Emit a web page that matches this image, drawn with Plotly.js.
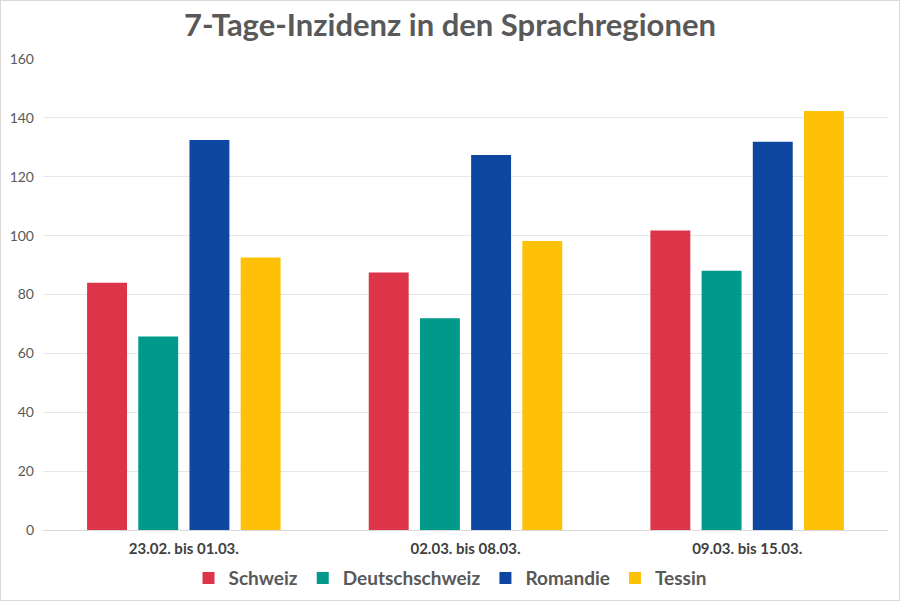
<!DOCTYPE html>
<html>
<head>
<meta charset="utf-8">
<script src="https://cdn.plot.ly/plotly-3.0.1.min.js"></script>
<style>
html,body{margin:0;padding:0;background:#fff;}
#wrap{position:relative;width:900px;height:601px;}
#chart{width:900px;height:601px;}
#frame{position:absolute;left:0;top:0;width:898px;height:599px;border:1px solid #d9d9d9;pointer-events:none;}
</style>
</head>
<body>
<div id="wrap"><div id="chart"></div><div id="frame"></div></div>
<script>
const categories = ["23.02. bis 01.03.", "02.03. bis 08.03.", "09.03. bis 15.03."];
const seriesNames = ["Schweiz", "Deutschschweiz", "Romandie", "Tessin"];
const schweiz = [84.0, 87.5, 101.7];
const deutschschweiz = [65.7, 71.9, 88.1];
const romandie = [132.5, 127.4, 131.9];
const tessin = [92.6, 98.2, 142.3];
const colors = ["#DC3549", "#00998A", "#0D47A1", "#FFC107"];
const yTicks = [0, 20, 40, 60, 80, 100, 120, 140, 160];

const values = [schweiz, deutschschweiz, romandie, tessin];
const traces = seriesNames.map((n, i) => ({
  type: "bar",
  name: n,
  x: categories,
  y: values[i],
  marker: {color: colors[i]},
  hoverinfo: "x+y+name"
}));

const layout = {
  width: 900,
  height: 601,
  margin: {l: 43, r: 12, t: 59, b: 71, autoexpand: false},
  paper_bgcolor: "#ffffff",
  plot_bgcolor: "#ffffff",
  font: {family: "Lato, 'Open Sans', sans-serif", color: "#595959"},
  title: {
    text: "<b>7-Tage-Inzidenz in den Sprachregionen</b>",
    x: 0.5, xanchor: "center",
    y: 0.958, yanchor: "middle",
    font: {family: "Lato, sans-serif", size: 31, color: "#595959"}
  },
  barmode: "group",
  bargap: 0.273,
  bargroupgap: 0.22,
  xaxis: {
    type: "category",
    showgrid: false,
    showline: false,
    zeroline: false,
    ticks: "",
    tickfont: {family: "Lato, sans-serif", size: 15, color: "#404040", weight: "bold"},
    ticklabelstandoff: 8,
    automargin: false
  },
  yaxis: {
    range: [0, 160],
    tickvals: yTicks,
    ticktext: yTicks.map(String),
    showgrid: true,
    gridcolor: "#e6e6e6",
    gridwidth: 1,
    zeroline: true,
    zerolinecolor: "#d9d9d9",
    zerolinewidth: 1,
    showline: false,
    ticks: "",
    tickfont: {family: "Lato, sans-serif", size: 14, color: "#595959"},
    ticklabelstandoff: 8,
    automargin: false
  },
  legend: {
    orientation: "h",
    x: 0.5, xanchor: "center",
    xref: "container",
    yref: "container",
    y: 0.038, yanchor: "middle",
    font: {family: "Lato, sans-serif", size: 19, color: "#595959", weight: "bold"},
    itemwidth: 30,
    traceorder: "normal"
  },
  showlegend: true
};

Plotly.newPlot("chart", traces, layout, {displayModeBar: false, staticPlot: true});
</script>
</body>
</html>
